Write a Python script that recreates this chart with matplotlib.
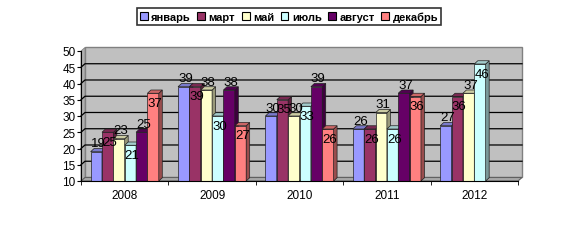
import numpy as np
import matplotlib.pyplot as plt
from matplotlib.patches import Polygon, Patch
import matplotlib.colors as mcolors

plt.rcParams['font.family'] = ['Liberation Sans', 'DejaVu Sans']

# data
years = ['2008', '2009', '2010', '2011', '2012']
months = ['январь', 'март', 'май', 'июль', 'август', 'декабрь']
jan = [19, 39, 30, 26, 27]
mar = [25, 39, 35, 26, 36]
may = [23, 38, 30, 31, 37]
jul = [21, 30, 33, 26, 46]
aug = [25, 38, 39, 37, np.nan]
dec = [37, 27, 26, 36, np.nan]
series = [jan, mar, may, jul, aug, dec]
colors = ['#9999FF', '#993366', '#FFFFCC', '#CCFFFF', '#660066', '#FF8080']


def shade(c, k):
    r, g, b = mcolors.to_rgb(c)
    return (r * k, g * k, b * k)


fig = plt.figure(figsize=(5.84, 2.53), dpi=100)
ax = fig.add_axes([81 / 584, 71 / 253, 437 / 584, 130 / 253])
ax.set_xlim(-0.5, 4.5)
ax.set_ylim(10, 50)
ax.patch.set_visible(False)

# pseudo 3d offsets (data units)
wdx, wdy = 0.046, 1.08   # back wall
bdx, bdy = 0.04, 1.0     # bar depth

# walls and floor
back = Polygon([(-0.5 + wdx, 10 + wdy), (4.5 + wdx, 10 + wdy),
                (4.5 + wdx, 50 + wdy), (-0.5 + wdx, 50 + wdy)],
               facecolor='#C0C0C0', edgecolor='#808080', lw=1, clip_on=False, zorder=0)
side = Polygon([(-0.5, 10), (-0.5 + wdx, 10 + wdy), (-0.5 + wdx, 50 + wdy), (-0.5, 50)],
               facecolor='#B0B0B0', edgecolor='#808080', lw=0.6, clip_on=False, zorder=0)
floor = Polygon([(-0.5, 10), (4.5, 10), (4.5 + wdx, 10 + wdy), (-0.5 + wdx, 10 + wdy)],
                facecolor='#A8A8A8', edgecolor='#606060', lw=0.8, clip_on=False, zorder=0.5)
for p in (back, side, floor):
    ax.add_patch(p)

for y in range(15, 50, 5):
    ax.plot([-0.5, -0.5 + wdx, 4.5 + wdx], [y, y + wdy, y + wdy],
            color='black', lw=0.9, clip_on=False, zorder=0.6)

bw = 0.13
x0 = np.arange(len(years)) - 3 * bw
for i, (vals, c) in enumerate(zip(series, colors)):
    vals = np.array(vals, dtype=float)
    xs = x0 + (i + 0.5) * bw
    ok = ~np.isnan(vals)
    ax.bar(xs[ok], vals[ok] - 10, bottom=10, width=bw, color=c,
           edgecolor='#202020', lw=0.5, zorder=2)
    for xc, v in zip(xs[ok], vals[ok]):
        l, r = xc - bw / 2, xc + bw / 2
        ax.add_patch(Polygon([(r, 10), (r + bdx, 10 + bdy), (r + bdx, v + bdy), (r, v)],
                             facecolor=shade(c, 0.6), edgecolor='#202020', lw=0.5,
                             zorder=2, clip_on=False))
        ax.add_patch(Polygon([(l, v), (r, v), (r + bdx, v + bdy), (l + bdx, v + bdy)],
                             facecolor=shade(c, 0.8), edgecolor='#202020', lw=0.5,
                             zorder=2, clip_on=False))

# data labels, alternating above / inside the bar top
for i, vals in enumerate(series):
    xs = x0 + (i + 0.5) * bw
    off = 6 if i % 2 == 0 else -7
    for xc, v in zip(xs, vals):
        if np.isnan(v):
            continue
        ax.annotate(str(int(v)), xy=(xc + bdx / 2, v), xytext=(0, off),
                    textcoords='offset points', ha='center', va='center',
                    fontsize=9.5, color='black', zorder=5, annotation_clip=False)

for s in ('top', 'right'):
    ax.spines[s].set_visible(False)
ax.spines['left'].set_zorder(3)
ax.spines['bottom'].set_zorder(3)

ax.set_yticks(range(10, 51, 5))
ax.tick_params(axis='y', length=3, direction='out', labelsize=8.5, pad=1)
ax.set_xticks(np.arange(len(years)))
ax.set_xticklabels(years)
ax.set_xticks(np.arange(-0.5, 5, 1), minor=True)
ax.tick_params(axis='x', which='major', length=0, labelsize=8.5, pad=6)
ax.tick_params(axis='x', which='minor', length=3, direction='out')

handles = [Patch(facecolor=c, edgecolor='black', lw=0.8) for c in colors]
leg = fig.legend(handles, months, loc='center', bbox_to_anchor=(289 / 584, 1 - 17.5 / 253),
                 ncol=6, frameon=True, fancybox=False, edgecolor='black',
                 handlelength=0.7, handleheight=0.7, handletextpad=0.3,
                 columnspacing=0.6, borderpad=0.3, borderaxespad=0,
                 prop=dict(weight='bold', size=8))
leg.get_frame().set_linewidth(1.2)

fig.savefig('out.png', dpi=100)
